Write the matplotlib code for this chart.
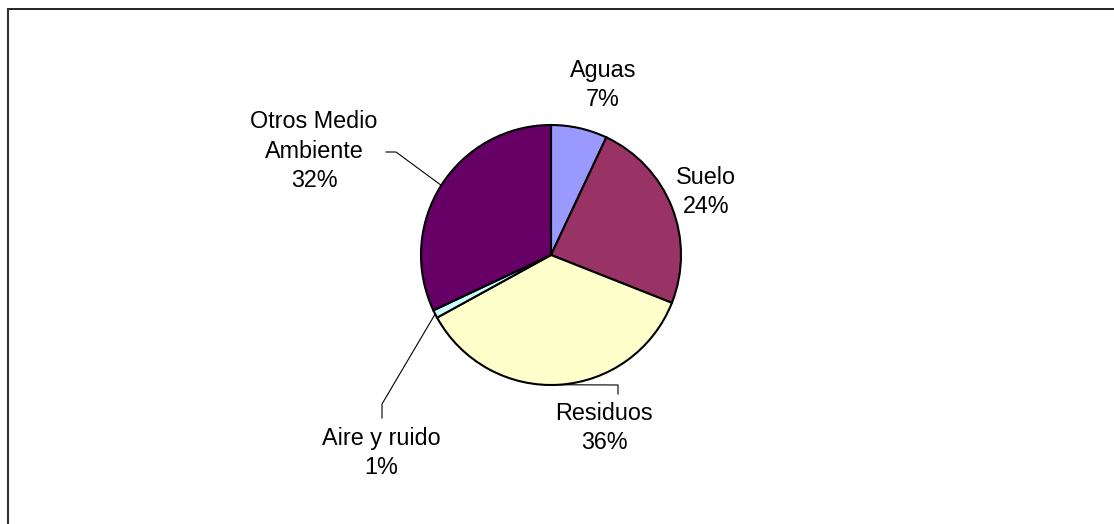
import numpy as np
import matplotlib.pyplot as plt
from matplotlib.lines import Line2D

plt.rcParams['font.family'] = ['Liberation Sans', 'DejaVu Sans']

categories = ['Aguas', 'Suelo', 'Residuos', 'Aire y ruido', 'Otros Medio\nAmbiente']
values = [7, 24, 36, 1, 32]
colors = ['#9999FF', '#993366', '#FFFFCC', '#CCFFFF', '#660066']

# label centres (pixels, y from top) and leader elbow points
label_pos = [(603, 85), (706, 192), (604, 428), (381, 453), (314, 151)]
elbows = [None, None, [(618, 385), (618, 394)], [(382, 404), (382, 418)],
          [(396, 152), (386, 152)]]

W, H = 1114, 524
cx, cy, r = 551, H - 255, 130

fig = plt.figure(figsize=(W / 100, H / 100), dpi=100)
ax = fig.add_axes([0, 0, 1, 1])

ax.pie(values, colors=colors, startangle=90, counterclock=False,
       center=(cx, cy), radius=r,
       wedgeprops=dict(edgecolor='black', linewidth=1.5))
ax.set_xlim(0, W)
ax.set_ylim(0, H)
ax.set_aspect('equal')
ax.axis('off')

total = sum(values)
cum = np.cumsum([0] + values)
for i, (name, v) in enumerate(zip(categories, values)):
    pct = round(100 * v / total)
    lx, ly = label_pos[i]
    ax.text(lx, H - ly, f"{name}\n{pct}%", ha='center', va='center',
            fontsize=16.8, linespacing=1.37, color='black')
    if elbows[i] is not None:
        mid = np.deg2rad(360 * (cum[i] + v / 2) / total)
        ex, ey = cx + r * np.sin(mid), cy + r * np.cos(mid)
        xs = [ex] + [p[0] for p in elbows[i]]
        ys = [ey] + [H - p[1] for p in elbows[i]]
        ax.plot(xs, ys, color='black', linewidth=0.8, zorder=0.5)

# chart frame (top and left edges visible)
fig.add_artist(Line2D([8 / W, 1], [1 - 9 / H, 1 - 9 / H], color='black',
                      linewidth=1.2, transform=fig.transFigure))
fig.add_artist(Line2D([8 / W, 8 / W], [0, 1 - 9 / H], color='#333333',
                      linewidth=1.5, transform=fig.transFigure))

fig.savefig('out.png', dpi=100)
